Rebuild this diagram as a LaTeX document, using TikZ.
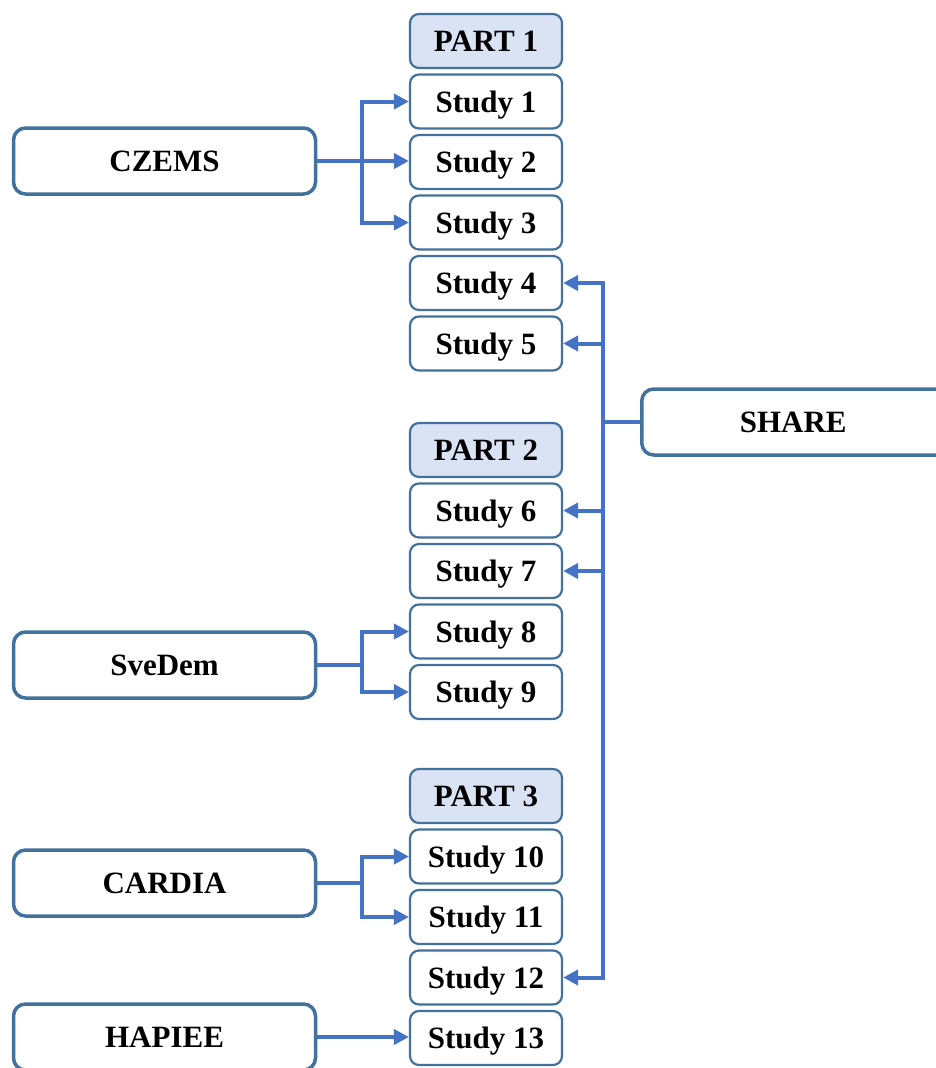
\documentclass[tikz,border=0pt]{standalone}
\usepackage{fontspec}
\setmainfont{Liberation Serif}
\usetikzlibrary{arrows.meta, positioning}
\definecolor{boxblue}{HTML}{41719C}
\definecolor{linkblue}{HTML}{4472C4}
\definecolor{partfill}{HTML}{DAE3F3}

\begin{document}
\begin{tikzpicture}[
        x=1pt, y=1pt,
        every node/.style={font=\bfseries\fontsize{31}{36}\selectfont, inner sep=0pt,
            text height=21pt, text depth=0pt},
        cohort/.style={draw=boxblue, line width=3.5pt, rounded corners=12pt, fill=white,
            minimum width=302pt, minimum height=66pt},
        study/.style={draw=boxblue, line width=2.2pt, rounded corners=9pt, fill=white,
            minimum width=152pt, minimum height=54pt},
        part/.style={study, fill=partfill},
        link/.style={draw=linkblue, line width=4pt, -{Triangle[length=15pt, width=15pt]}}
    ]
        \useasboundingbox (0,0) rectangle (935,-1068);

        % study column
        \node[part] (p1) at (486,-41) {PART 1};
        \node[study, below=4.3pt of p1] (s1) {Study 1};
        \node[study, below=4.3pt of s1] (s2) {Study 2};
        \node[study, below=4.3pt of s2] (s3) {Study 3};
        \node[study, below=4.3pt of s3] (s4) {Study 4};
        \node[study, below=4.3pt of s4] (s5) {Study 5};
        \node[part, below=50.3pt of s5] (p2) {PART 2};
        \node[study, below=4.3pt of p2] (s6) {Study 6};
        \node[study, below=4.3pt of s6] (s7) {Study 7};
        \node[study, below=4.3pt of s7] (s8) {Study 8};
        \node[study, below=4.3pt of s8] (s9) {Study 9};
        \node[part, below=47.8pt of s9] (p3) {PART 3};
        \node[study, below=4.3pt of p3] (s10) {Study 10};
        \node[study, below=4.3pt of s10] (s11) {Study 11};
        \node[study, below=4.3pt of s11] (s12) {Study 12};
        \node[study, below=4.3pt of s12] (s13) {Study 13};

        % cohorts
        \node[cohort] (czems) at (164.5,-161) {CZEMS};
        \node[cohort] (svedem) at (164.5,-665) {SveDem};
        \node[cohort] (cardia) at (164.5,-883) {CARDIA};
        \node[cohort] (hapiee) at (164.5,-1037) {HAPIEE};
        \node[cohort, anchor=west, minimum width=320pt] (share) at (640,-422) {SHARE\hspace*{17pt}};

        \draw[link] (czems.east) -- ++(45,0) |- (s1.west);
        \draw[link] (czems.east) -- (czems.east -| s2.west);
        \draw[link] (czems.east) -- ++(45,0) |- (s3.west);

        \draw[link] (share.west) -- ++(-37,0) |- (s4.east);
        \draw[link] (share.west) -- ++(-37,0) |- (s5.east);
        \draw[link] (share.west) -- ++(-37,0) |- (s6.east);
        \draw[link] (share.west) -- ++(-37,0) |- (s7.east);
        \draw[link] (share.west) -- ++(-37,0) |- (s12.east);

        \draw[link] (svedem.east) -- ++(45,0) |- (s8.west);
        \draw[link] (svedem.east) -- ++(45,0) |- (s9.west);

        \draw[link] (cardia.east) -- ++(45,0) |- (s10.west);
        \draw[link] (cardia.east) -- ++(45,0) |- (s11.west);

        \draw[link] (hapiee.east) -- (hapiee.east -| s13.west);
    \end{tikzpicture}
\end{document}
